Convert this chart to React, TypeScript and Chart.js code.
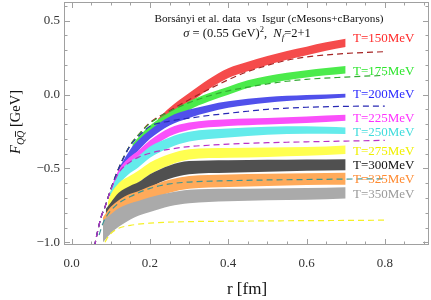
import React, { useEffect, useRef } from 'react';
import { Chart, registerables } from 'chart.js';

Chart.register(...registerables);

const SERIF = "'Liberation Serif', 'Times New Roman', Times, serif";

// ---------- axis / text data ----------
const xTickValues = [0, 0.2, 0.4, 0.6, 0.8];
const yTickValues = [-1.0, -0.5, 0.0, 0.5];
const xAxisTitle = 'r [fm]';
const titleLine1 = 'Borsányi et al. data  vs  Isgur (cMesons+cBaryons)';
const tempLabels = ['T=150MeV', 'T=175MeV', 'T=200MeV', 'T=225MeV', 'T=250MeV', 'T=275MeV', 'T=300MeV', 'T=325MeV', 'T=350MeV'];

// ---------- lattice bands (lower / upper edges) ----------
const rRed = [0.22, 0.25, 0.3, 0.35, 0.4, 0.45, 0.5, 0.55, 0.6, 0.65, 0.7];
const lo150 = [-0.225, -0.155, -0.06, 0.036, 0.112, 0.158, 0.199, 0.235, 0.266, 0.297, 0.322];
const hi150 = [-0.165, -0.09, 0.01, 0.104, 0.178, 0.222, 0.261, 0.295, 0.324, 0.353, 0.378];

const rGreen = [0.155, 0.17, 0.2, 0.25, 0.3, 0.35, 0.4, 0.45, 0.5, 0.55, 0.6, 0.65, 0.7];
const lo175 = [-0.38, -0.34, -0.265, -0.18, -0.104, -0.048, -0.002, 0.044, 0.075, 0.097, 0.115, 0.13, 0.143];
const hi175 = [-0.335, -0.29, -0.21, -0.12, -0.046, 0.008, 0.052, 0.096, 0.125, 0.147, 0.165, 0.18, 0.193];

const rBlue = [0.12, 0.15, 0.17, 0.2, 0.25, 0.3, 0.35, 0.4, 0.5, 0.6, 0.7];
const lo200 = [-0.55, -0.435, -0.38, -0.3, -0.21, -0.158, -0.12, -0.09, -0.055, -0.036, -0.02];
const hi200 = [-0.5, -0.37, -0.31, -0.24, -0.15, -0.102, -0.07, -0.046, -0.017, -0.004, 0.006];

const rMagenta = [0.105, 0.12, 0.15, 0.17, 0.2, 0.25, 0.3, 0.4, 0.5, 0.6, 0.7];
const lo225 = [-0.64, -0.56, -0.48, -0.44, -0.37, -0.283, -0.24, -0.213, -0.202, -0.192, -0.177];
const hi225 = [-0.6, -0.51, -0.42, -0.38, -0.31, -0.227, -0.19, -0.167, -0.158, -0.148, -0.137];

const rCyan = [0.097, 0.12, 0.15, 0.17, 0.2, 0.25, 0.3, 0.4, 0.5, 0.6, 0.7];
const lo250 = [-0.71, -0.61, -0.53, -0.493, -0.428, -0.36, -0.318, -0.29, -0.272, -0.265, -0.267];
const hi250 = [-0.665, -0.535, -0.45, -0.417, -0.352, -0.29, -0.252, -0.23, -0.218, -0.215, -0.223];

const rYellow = [0.092, 0.1, 0.12, 0.15, 0.17, 0.2, 0.25, 0.3, 0.4, 0.5, 0.6, 0.7];
const lo275 = [-0.8, -0.755, -0.69, -0.632, -0.596, -0.54, -0.478, -0.44, -0.428, -0.422, -0.415, -0.402];
const hi275 = [-0.73, -0.675, -0.6, -0.548, -0.516, -0.46, -0.402, -0.37, -0.362, -0.358, -0.355, -0.344];

const rDark = [0.087, 0.1, 0.12, 0.15, 0.17, 0.2, 0.25, 0.3, 0.4, 0.5, 0.6, 0.7];
const lo300 = [-0.86, -0.82, -0.76, -0.713, -0.686, -0.63, -0.57, -0.54, -0.53, -0.522, -0.516, -0.512];
const hi300 = [-0.775, -0.73, -0.665, -0.617, -0.594, -0.54, -0.48, -0.45, -0.444, -0.442, -0.44, -0.438];

const rLow = [0.08, 0.1, 0.12, 0.15, 0.17, 0.2, 0.25, 0.3, 0.4, 0.5, 0.6, 0.7];
const lo325 = [-0.92, -0.85, -0.815, -0.768, -0.746, -0.71, -0.664, -0.638, -0.625, -0.618, -0.612, -0.61];
const hi325 = [-0.83, -0.76, -0.715, -0.672, -0.654, -0.62, -0.576, -0.552, -0.541, -0.536, -0.532, -0.53];
const lo350 = [-1.0, -0.94, -0.895, -0.845, -0.82, -0.795, -0.755, -0.735, -0.722, -0.715, -0.712, -0.703];
const hi350 = [-0.85, -0.81, -0.77, -0.735, -0.72, -0.695, -0.665, -0.645, -0.638, -0.635, -0.632, -0.627];

// ---------- model curves (dashed) ----------
const rModel = [0.058, 0.065, 0.075, 0.085, 0.1, 0.12, 0.15, 0.17, 0.2, 0.25, 0.3, 0.35, 0.4, 0.45, 0.5, 0.55, 0.6, 0.7, 0.8];
const model150 = [-1.03, -0.94, -0.83, -0.76, -0.64, -0.5, -0.34, -0.275, -0.19, -0.11, -0.035, 0.035, 0.1, 0.155, 0.197, 0.232, 0.254, 0.278, 0.29];
const model175 = [-1.03, -0.94, -0.83, -0.76, -0.64, -0.5, -0.34, -0.275, -0.195, -0.115, -0.055, -0.01, 0.025, 0.05, 0.072, 0.09, 0.103, 0.118, 0.13];
const model200 = [-1.03, -0.94, -0.83, -0.76, -0.64, -0.5, -0.345, -0.285, -0.215, -0.18, -0.16, -0.142, -0.127, -0.113, -0.1, -0.092, -0.086, -0.08, -0.078];
const model225 = [-1.03, -0.94, -0.83, -0.76, -0.645, -0.53, -0.455, -0.425, -0.397, -0.37, -0.352, -0.343, -0.335, -0.33, -0.326, -0.323, -0.32, -0.315, -0.31];
const rModelT = [0.07, 0.08, 0.09, 0.1, 0.12, 0.15, 0.2, 0.25, 0.3, 0.4, 0.5, 0.6, 0.7, 0.8];
const modelTeal = [-0.95, -0.87, -0.82, -0.785, -0.735, -0.69, -0.635, -0.605, -0.592, -0.583, -0.578, -0.575, -0.572, -0.57];
const rModelY = [0.085, 0.09, 0.1, 0.12, 0.15, 0.2, 0.3, 0.4, 0.5, 0.6, 0.7, 0.8];
const modelYellow = [-1.0, -0.975, -0.94, -0.905, -0.885, -0.87, -0.86, -0.857, -0.855, -0.853, -0.852, -0.85];

// ---------- styles ----------
const bandColors = [
  'rgb(245,75,75)', 'rgb(75,235,75)', 'rgb(80,80,235)', 'rgb(250,80,250)', 'rgb(100,235,235)',
  'rgb(255,255,80)', 'rgb(80,80,80)', 'rgb(255,170,90)', 'rgb(170,170,170)',
];
const labelColors = ['#ff2a2a', '#2fe62f', '#2a2aff', '#ff30ff', '#3fdcdc', '#f0f000', '#111111', '#ff8a30', '#9a9a9a'];
const labelBaselines = [41.5, 75, 98, 122, 136, 155, 169, 183, 197.5];
const labelLeft = 353;

const pts = (xs: number[], ys: number[]) => xs.map((x, i) => ({ x, y: ys[i] }));

const fmt = (v: number) => v.toFixed(1).replace('-', '\u2212');

function drawParts(ctx: CanvasRenderingContext2D, parts: any[], cx: number, baseY: number) {
  const f = (p: any) => `${p.italic ? 'italic ' : ''}${p.size}px ${SERIF}`;
  let total = 0;
  for (const p of parts) {
    ctx.font = f(p);
    total += ctx.measureText(p.t).width;
  }
  let x = cx - total / 2;
  for (const p of parts) {
    ctx.font = f(p);
    const w = ctx.measureText(p.t).width;
    ctx.fillText(p.t, x, baseY + (p.dy || 0));
    if (p.overFrom !== undefined) {
      const w0 = ctx.measureText(p.t.slice(0, p.overFrom)).width;
      ctx.save();
      ctx.lineWidth = 0.9;
      ctx.beginPath();
      const oy = baseY + (p.dy || 0) - p.size * 0.8;
      ctx.moveTo(x + w0 + 1, oy);
      ctx.lineTo(x + w - 0.5, oy);
      ctx.stroke();
      ctx.restore();
    }
    x += w;
  }
}

const decorPlugin = {
  id: 'decor',
  afterDraw(chart: any) {
    const { ctx, chartArea: a, scales } = chart;
    const xs = scales.x;
    const ys = scales.y;
    ctx.save();
    // frame
    ctx.strokeStyle = '#a0a0a0';
    ctx.lineWidth = 1;
    ctx.strokeRect(a.left + 0.5, a.top + 0.5, a.right - a.left - 1, a.bottom - a.top - 1);
    ctx.beginPath();
    for (let i = 0; i <= 18; i++) {
      const v = i * 0.05;
      const len = i % 4 === 0 ? 6 : 3.5;
      const px = Math.round(xs.getPixelForValue(v)) + 0.5;
      if (px < a.left || px > a.right) continue;
      ctx.moveTo(px, a.bottom);
      ctx.lineTo(px, a.bottom - len);
      ctx.moveTo(px, a.top);
      ctx.lineTo(px, a.top + len);
    }
    for (let i = -10; i <= 6; i++) {
      const v = i * 0.1;
      const len = i % 5 === 0 ? 6 : 3.5;
      const py = Math.round(ys.getPixelForValue(v)) + 0.5;
      if (py < a.top || py > a.bottom) continue;
      ctx.moveTo(a.left, py);
      ctx.lineTo(a.left + len, py);
      ctx.moveTo(a.right, py);
      ctx.lineTo(a.right - len, py);
    }
    ctx.stroke();

    // titles
    ctx.fillStyle = '#111';
    ctx.strokeStyle = '#111';
    ctx.textBaseline = 'alphabetic';
    ctx.textAlign = 'left';
    drawParts(ctx, [{ t: titleLine1, size: 11.2 }], 269, 22);
    drawParts(ctx, [
      { t: 'σ', size: 12.5, italic: true },
      { t: ' = (0.55 GeV)', size: 12.5 },
      { t: '2', size: 8.5, dy: -5.5 },
      { t: ',  ', size: 12.5 },
      { t: 'N', size: 12.5, italic: true },
      { t: 'f', size: 9, italic: true, dy: 3 },
      { t: '=2+1', size: 12.5 },
    ], 247, 37);

    // temperature labels
    ctx.font = `13px ${SERIF}`;
    tempLabels.forEach((t, i) => {
      ctx.fillStyle = labelColors[i];
      ctx.fillText(t, labelLeft, labelBaselines[i]);
    });

    // axis titles
    ctx.fillStyle = '#111';
    ctx.strokeStyle = '#111';
    drawParts(ctx, [{ t: xAxisTitle, size: 17 }], 247, 294);
    ctx.save();
    ctx.translate(20, 122);
    ctx.rotate(-Math.PI / 2);
    drawParts(ctx, [
      { t: 'F', size: 14.5, italic: true },
      { t: 'QQ', size: 10, italic: true, dy: 3.5, overFrom: 1 },
      { t: ' [GeV]', size: 14.5 },
    ], 0, 0);
    ctx.restore();
    ctx.restore();
  },
};

export default function App() {
  const ref = useRef<HTMLCanvasElement>(null);
  useEffect(() => {
    const bands = [
      { r: rLow, lo: lo350, hi: hi350, c: bandColors[8] },
      { r: rLow, lo: lo325, hi: hi325, c: bandColors[7] },
      { r: rDark, lo: lo300, hi: hi300, c: bandColors[6] },
      { r: rYellow, lo: lo275, hi: hi275, c: bandColors[5] },
      { r: rCyan, lo: lo250, hi: hi250, c: bandColors[4] },
      { r: rMagenta, lo: lo225, hi: hi225, c: bandColors[3] },
      { r: rBlue, lo: lo200, hi: hi200, c: bandColors[2] },
      { r: rGreen, lo: lo175, hi: hi175, c: bandColors[1] },
      { r: rRed, lo: lo150, hi: hi150, c: bandColors[0] },
    ];
    const datasets: any[] = [];
    bands.forEach((b) => {
      datasets.push({
        data: pts(b.r, b.hi), fill: '+1', backgroundColor: b.c, borderColor: 'rgba(0,0,0,0)',
        borderWidth: 0, pointRadius: 0, cubicInterpolationMode: 'monotone', order: 1,
      });
      datasets.push({
        data: pts(b.r, b.lo), fill: false, borderColor: 'rgba(0,0,0,0)',
        borderWidth: 0, pointRadius: 0, cubicInterpolationMode: 'monotone', order: 1,
      });
    });
    const dashed = [
      { r: rModelY, v: modelYellow, c: 'rgb(245,240,40)' },
      { r: rModelT, v: modelTeal, c: 'rgb(60,150,150)' },
      { r: rModel, v: model225, c: 'rgb(185,50,200)' },
      { r: rModel, v: model200, c: 'rgb(40,40,180)' },
      { r: rModel, v: model175, c: 'rgb(50,170,50)' },
      { r: rModel, v: model150, c: 'rgb(165,35,35)' },
    ];
    dashed.forEach((d) => {
      datasets.push({
        data: pts(d.r, d.v), fill: false, borderColor: d.c, borderWidth: 1.2, borderDash: [6, 4],
        pointRadius: 0, cubicInterpolationMode: 'monotone', order: 0,
      });
    });

    const tickFont = { family: SERIF, size: 13 };
    const chart = new Chart(ref.current as HTMLCanvasElement, {
      type: 'line',
      data: { datasets },
      options: {
        animation: false,
        responsive: false,
        maintainAspectRatio: false,
        events: [],
        layout: { padding: { top: 2, right: 2, left: 0, bottom: 0 } },
        plugins: { legend: { display: false }, tooltip: { enabled: false }, title: { display: false } },
        scales: {
          x: {
            type: 'linear',
            min: -0.0197,
            max: 0.913,
            grid: { display: false, drawTicks: false },
            border: { display: false },
            afterBuildTicks: (s: any) => { s.ticks = xTickValues.map((value) => ({ value })); },
            afterFit: (s: any) => { s.height = 55; s.paddingLeft = 0; s.paddingRight = 0; },
            ticks: { font: tickFont, color: '#333', padding: 11, maxRotation: 0, autoSkip: false, callback: (v: any) => fmt(Number(v)) },
          },
          y: {
            type: 'linear',
            min: -1.018,
            max: 0.626,
            grid: { display: false, drawTicks: false },
            border: { display: false },
            afterBuildTicks: (s: any) => { s.ticks = yTickValues.map((value) => ({ value })); },
            afterFit: (s: any) => { s.width = 64; s.paddingTop = 0; s.paddingBottom = 0; },
            ticks: { font: tickFont, color: '#333', padding: 4, autoSkip: false, callback: (v: any) => fmt(Number(v)) },
          },
        },
      } as any,
      plugins: [decorPlugin],
    });
    return () => chart.destroy();
  }, []);
  return (
    <div style={{ position: 'absolute', left: 0, top: 0, width: 431, height: 300, background: '#fff' }}>
      <canvas ref={ref} width={431} height={300} style={{ display: 'block', width: 431, height: 300 }} />
    </div>
  );
}
